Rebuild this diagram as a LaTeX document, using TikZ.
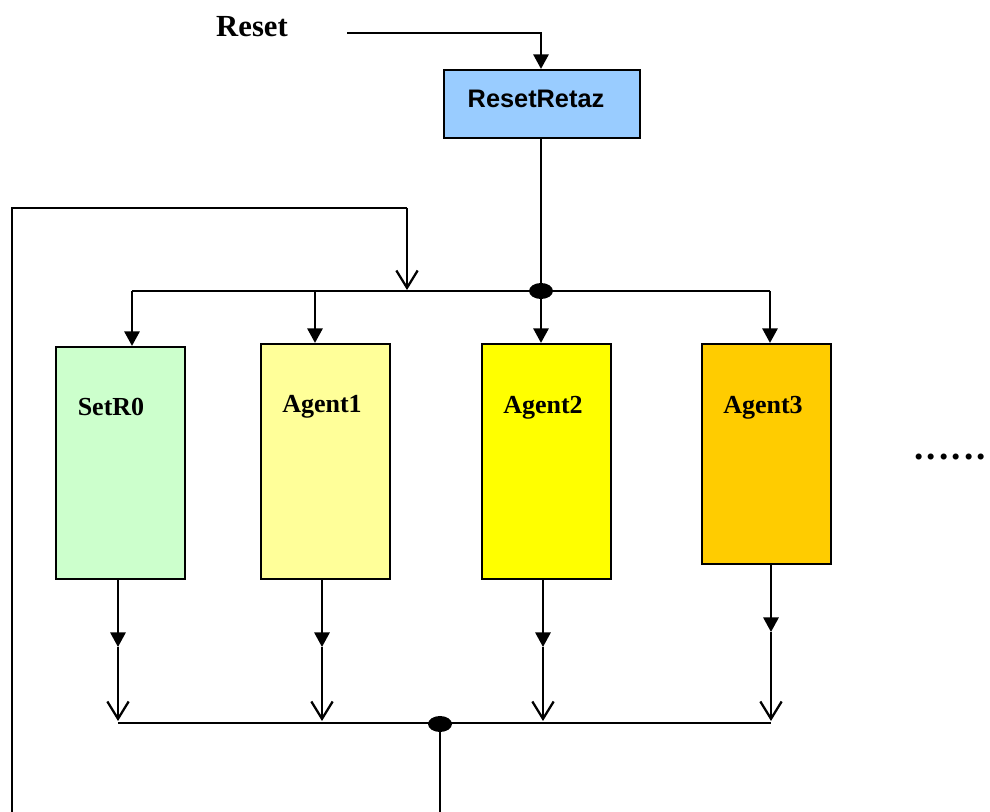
\documentclass[tikz,border=0pt]{standalone}
\usepackage{fontspec}
\setmainfont{Liberation Serif}
\setsansfont{Liberation Sans}
\usetikzlibrary{arrows.meta,shapes.geometric}
\definecolor{cblue}{HTML}{99CCFF}
\definecolor{cgreen}{HTML}{CCFFCC}
\definecolor{cpale}{HTML}{FFFF99}
\definecolor{cyel}{HTML}{FFFF00}
\definecolor{corange}{HTML}{FFCC00}
\begin{document}
\begin{tikzpicture}[x=0.75pt,y=-0.75pt,
  wire/.style={line width=1.7pt,draw=black},
  fa/.style={wire,-{Triangle[width=11.5pt,length=11pt]}},
  oa/.style={wire,-{Straight Barb[width=16pt,length=13pt,line width=1.7pt]}},
  blk/.style={draw=black,line width=1.6pt,inner sep=0pt},
  lbl/.style={font=\fontsize{19.5pt}{22pt}\selectfont\bfseries,inner sep=0pt,anchor=base},
  junct/.style={ellipse,fill=black,inner sep=0pt,minimum width=18pt,minimum height=12pt}]
\useasboundingbox (0,0) rectangle (990,812);

% boxes
\node[blk,fill=cblue,minimum width=147pt,minimum height=51pt] (rr) at (542,104) {};
\node[blk,fill=cgreen,minimum width=96.75pt,minimum height=174pt] (s0) at (120.5,463) {};
\node[blk,fill=cpale,minimum width=96.75pt,minimum height=176.25pt] (a1) at (325.5,461.5) {};
\node[blk,fill=cyel,minimum width=96.75pt,minimum height=176.25pt] (a2) at (546.5,461.5) {};
\node[blk,fill=corange,minimum width=96.75pt,minimum height=165pt] (a3) at (766.5,454) {};

% texts
\node[font=\fontsize{23pt}{26pt}\selectfont\bfseries,inner sep=0pt,anchor=base] (reset) at (252,37) {Reset};
\node[font=\sffamily\fontsize{19pt}{22pt}\selectfont\bfseries,inner sep=0pt,anchor=base] (rrt) at (536,108) {ResetRetaz};
\node[lbl] (s0t) at (111,416) {SetR0};
\node[lbl] (a1t) at (322,413) {Agent1};
\node[lbl] (a2t) at (543,414) {Agent2};
\node[lbl] (a3t) at (763,414) {Agent3};
\node[font=\fontsize{28pt}{30pt}\selectfont\bfseries,inner sep=0pt,anchor=base west] (dots) at (914,460) {.\kern2.4pt.\kern2.4pt.\kern2.4pt.\kern2.4pt.\kern2.4pt.};

% junctions
\node[junct] (jt) at (541,291) {};
\node[junct] (jb) at (440,724) {};

% reset input
\coordinate (rin) at (347,33);
\draw[fa] (rin) -| (rr.north -| jt.center);

% resetretaz to top junction
\draw[wire] (rr.south -| jt.center) -- (jt.center);

% top bus
\coordinate (tb1) at (132,291);
\coordinate (tb2) at (315,291);
\coordinate (tb4) at (770,291);
\draw[wire] (tb1) -- (tb4);
\draw[fa] (tb1) -- (tb1 |- s0.north);
\draw[fa] (tb2) -- (tb2 |- a1.north);
\draw[fa] (jt.center) -- (jt.center |- a2.north);
\draw[fa] (tb4) -- (tb4 |- a3.north);

% feedback loop
\coordinate (fb0) at (12,815);
\coordinate (fb1) at (407,208);
\coordinate (fbt) at (407,290);
\draw[wire] (fb0) |- (fb1);
\draw[oa] (fb1) -- (fbt);

% outputs
\coordinate (m1) at (118,647);
\coordinate (m2) at (322,647);
\coordinate (m3) at (543,647);
\coordinate (m4) at (771,632);
\coordinate (e1) at (118,721);
\coordinate (e2) at (322,721);
\coordinate (e3) at (543,721);
\coordinate (e4) at (771,721);
\draw[fa] (m1 |- s0.south) -- (m1);
\draw[fa] (m2 |- a1.south) -- (m2);
\draw[fa] (m3 |- a2.south) -- (m3);
\draw[fa] (m4 |- a3.south) -- (m4);
\draw[oa] (m1) -- (e1);
\draw[oa] (m2) -- (e2);
\draw[oa] (m3) -- (e3);
\draw[oa] (m4) -- (e4);

% bottom bus
\coordinate (bb1) at (118,723);
\coordinate (bb2) at (771,723);
\coordinate (bout) at (437,815);
\draw[wire] (bb1) -- (bb2);
\draw[wire] (jb.center) -- (jb.center |- bout);
\end{tikzpicture}
\end{document}
